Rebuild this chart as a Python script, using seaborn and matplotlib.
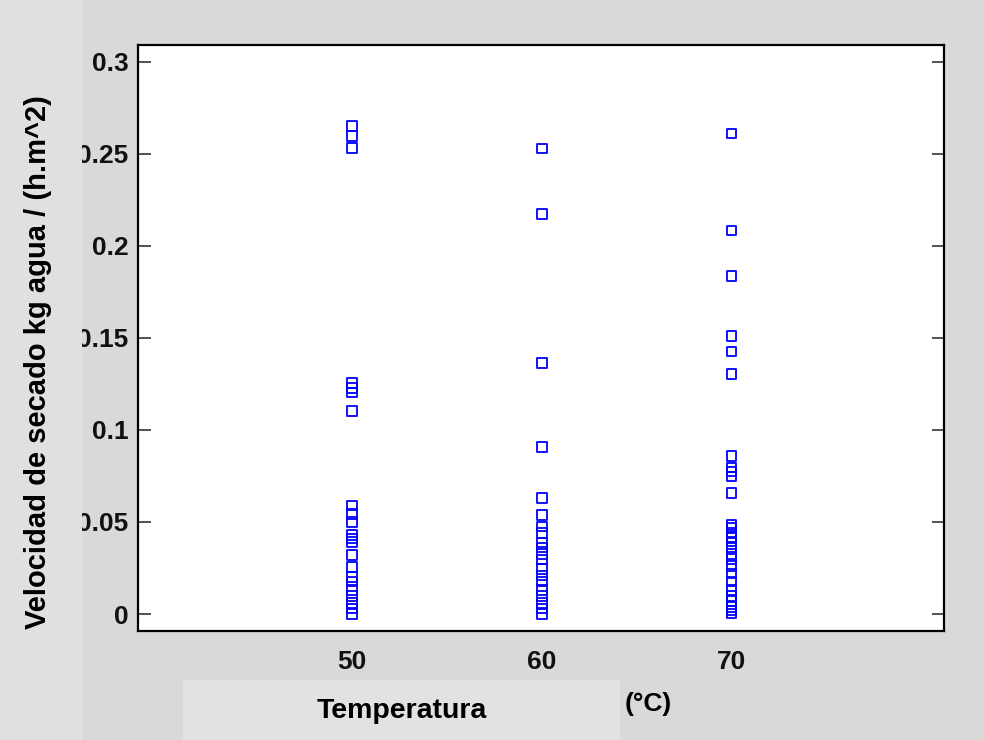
import numpy as np
import pandas as pd
import matplotlib
matplotlib.use("Agg")
import matplotlib.pyplot as plt
import seaborn as sns
from matplotlib.patches import Rectangle

# ---- data ----
temp_50 = [0.265, 0.2595, 0.253, 0.1254, 0.1226, 0.1203, 0.1103,
           0.059, 0.0544, 0.050, 0.043, 0.041, 0.039, 0.032, 0.0257,
           0.020, 0.0176, 0.013, 0.0098, 0.006, 0.003, 0.0]
temp_60 = [0.2527, 0.2174, 0.1362, 0.0906, 0.0629, 0.0538, 0.0475,
           0.0440, 0.0388, 0.0362, 0.0326, 0.0297, 0.0243, 0.021, 0.0176,
           0.013, 0.0098, 0.006, 0.0031, 0.0]
temp_70 = [0.2609, 0.2082, 0.1837, 0.1511, 0.1425, 0.1304, 0.0859,
           0.0795, 0.0774, 0.0746, 0.0659, 0.0484, 0.0466, 0.044, 0.0417,
           0.0393, 0.0362, 0.0326, 0.030, 0.026, 0.022, 0.0176, 0.013,
           0.0098, 0.007, 0.004, 0.002, 0.0004]
temperatures = [50, 60, 70]
y_ticks = [0, 0.05, 0.1, 0.15, 0.2, 0.25, 0.3]
y_tick_labels = ["0", "0.05", "0.1", "0.15", "0.2", "0.25", "0.3"]
x_label = "Temperatura"
x_unit = "(°C)"
y_label = "Velocidad de secado kg agua / (h.m^2)"

rows = []
for t, vals in zip(temperatures, [temp_50, temp_60, temp_70]):
    for v in vals:
        rows.append({"T": t, "V": v})
df = pd.DataFrame(rows)

sns.set_style("white")
plt.rcParams['font.family'] = ['Liberation Sans', 'DejaVu Sans']

fig = plt.figure(figsize=(9.84, 7.4), dpi=100)
fig.patch.set_facecolor("#d9d9d9")

# lighter background patches
fig.add_artist(Rectangle((0, 0), 82 / 984, 1, transform=fig.transFigure,
                         facecolor="#e0e0e0", edgecolor="none", zorder=5))
fig.add_artist(Rectangle((183 / 984, 0), (620 - 183) / 984, 60 / 740,
                         transform=fig.transFigure, facecolor="#e2e2e2",
                         edgecolor="none", zorder=1))

ax = fig.add_axes([138 / 984, 1 - 631 / 740, (944 - 138) / 984, (631 - 45) / 740])
ax.set_facecolor("white")

sns.scatterplot(data=df, x="T", y="V", ax=ax, marker="s", s=48,
                facecolors="none", edgecolor="#0000ff", linewidth=1.3,
                legend=False, zorder=3)

ax.set_xlim(38.7, 81.2)
ax.set_ylim(-0.0092, 0.309)
ax.set_xticks(temperatures)
ax.set_xticklabels([str(t) for t in temperatures])
ax.set_yticks(y_ticks)
ax.set_yticklabels(y_tick_labels)
ax.set_xlabel("")
ax.set_ylabel("")

for lab in ax.get_xticklabels() + ax.get_yticklabels():
    lab.set_fontweight("bold")
    lab.set_fontsize(19)
    lab.set_color("#111111")

ax.tick_params(axis="y", which="both", direction="in", length=9, width=1.2,
               left=True, right=True, pad=7, color="#333333")
ax.tick_params(axis="x", which="both", length=0, pad=14)

for sp in ax.spines.values():
    sp.set_visible(True)
    sp.set_color("black")
    sp.set_linewidth(1.6)

fig.text(38 / 984, 1 - 362 / 740, y_label, rotation=90, ha="center", va="center",
         fontsize=21, fontweight="bold", color="black", zorder=6)
fig.text(402 / 984, 1 - 711 / 740, x_label, ha="center", va="center",
         fontsize=20.5, fontweight="bold", color="black", zorder=6)
fig.text(648 / 984, 1 - 704 / 740, x_unit, ha="center", va="center",
         fontsize=19, fontweight="bold", color="black", zorder=6)

fig.savefig("out.png", dpi=100, facecolor=fig.get_facecolor())
